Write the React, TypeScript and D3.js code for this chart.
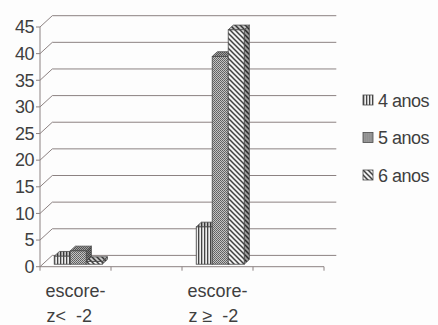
import { useEffect, useRef } from "react";
import * as d3 from "d3";

// categories sit in slots 0 and 2 of a 4-slot axis (slots 1 and 3 are empty)
const categories = ["escore-z<  -2", "escore-z ≥  -2"];
const categorySlots = [0, 2];
const slots = [0, 1, 2, 3];
const series = ["4 anos", "5 anos", "6 anos"];
const values4 = [1.5, 7];
const values5 = [2.5, 39];
const values6 = [0.5, 44];
const yTicks = [0, 5, 10, 15, 20, 25, 30, 35, 40, 45];

const App = () => {
  const ref = useRef<SVGSVGElement>(null);

  useEffect(() => {
    if (!ref.current) return;
    const svg = d3.select(ref.current);
    svg.selectAll("*").remove();

    const width = 438;
    const height = 325;
    svg.attr("width", width).attr("height", height);

    const font = "'Liberation Sans', Arial, sans-serif";
    const textColor = "#3f3f3f";
    const gridColor = "#8c8282";
    const edge = "#4a4a4a";

    // depth of the 3D box and of the bars
    const DX = 12.3;
    const DY = -11.3;
    const barFront = 0.22;
    const barDepth = 0.42;
    const bx = DX * barFront;
    const by = DY * barFront;
    const dxb = DX * barDepth;
    const dyb = DY * barDepth;

    const x = d3.scaleBand<number>().domain(slots).range([40, 324]);
    const inner = d3
      .scaleBand<string>()
      .domain(series)
      .range([0, x.bandwidth()])
      .paddingOuter(0.72);
    const y = d3.scaleLinear().domain([0, 45]).range([266.7, 27]);

    svg
      .append("rect")
      .attr("width", width)
      .attr("height", height)
      .attr("fill", "#fdfdfd");

    // patterns
    const defs = svg.append("defs");
    const p4 = defs
      .append("pattern")
      .attr("id", "p4")
      .attr("patternUnits", "userSpaceOnUse")
      .attr("width", 3)
      .attr("height", 3);
    p4.append("rect").attr("width", 3).attr("height", 3).attr("fill", "#eeeeee");
    p4.append("rect").attr("x", 0).attr("width", 1.3).attr("height", 3).attr("fill", "#444");

    const p5 = defs
      .append("pattern")
      .attr("id", "p5")
      .attr("patternUnits", "userSpaceOnUse")
      .attr("width", 2)
      .attr("height", 2);
    p5.append("rect").attr("width", 2).attr("height", 2).attr("fill", "#c4c4c4");
    p5.append("rect").attr("width", 1).attr("height", 1).attr("fill", "#5e5e5e");
    p5.append("rect").attr("x", 1).attr("y", 1).attr("width", 1).attr("height", 1).attr("fill", "#6a6a6a");

    const p6 = defs
      .append("pattern")
      .attr("id", "p6")
      .attr("patternUnits", "userSpaceOnUse")
      .attr("width", 5)
      .attr("height", 5);
    p6.append("rect").attr("width", 5).attr("height", 5).attr("fill", "#f2f2f2");
    p6.append("path")
      .attr("d", "M0,0L5,5M-1,4L1,6M4,-1L6,1")
      .attr("stroke", "#404040")
      .attr("stroke-width", 1.5);

    const fills = ["url(#p4)", "url(#p5)", "url(#p6)"];
    const seriesValues = [values4, values5, values6];

    // gridlines: diagonal from front axis to back wall, then across
    const x0 = x.range()[0];
    const x1 = x.range()[1];
    const grid = svg.append("g");
    yTicks.forEach((t) => {
      grid
        .append("path")
        .attr(
          "d",
          `M${x0},${y(t)}L${x0 + DX},${y(t) + DY}L${x1 + DX},${y(t) + DY}`
        )
        .attr("fill", "none")
        .attr("stroke", gridColor)
        .attr("stroke-width", 1);
    });

    // y axis
    const yAxis = svg.append("g");
    yAxis
      .append("line")
      .attr("x1", x0)
      .attr("x2", x0)
      .attr("y1", y(45))
      .attr("y2", y(0))
      .attr("stroke", gridColor);
    yTicks.forEach((t) => {
      yAxis
        .append("line")
        .attr("x1", x0 - 4)
        .attr("x2", x0)
        .attr("y1", y(t))
        .attr("y2", y(t))
        .attr("stroke", gridColor);
      yAxis
        .append("text")
        .attr("x", 34)
        .attr("y", y(t) + 6.3)
        .attr("text-anchor", "end")
        .attr("font-family", font)
        .attr("font-size", 18)
        .attr("letter-spacing", -0.5)
        .attr("fill", textColor)
        .text(t);
    });

    // x axis
    const xAxis = svg.append("g");
    xAxis
      .append("line")
      .attr("x1", x0)
      .attr("x2", x1)
      .attr("y1", y(0))
      .attr("y2", y(0))
      .attr("stroke", gridColor);
    slots.concat([slots.length]).forEach((s) => {
      const xt = s < slots.length ? (x(s) as number) : x1;
      xAxis
        .append("line")
        .attr("x1", xt)
        .attr("x2", xt)
        .attr("y1", y(0))
        .attr("y2", y(0) + 4)
        .attr("stroke", gridColor);
    });

    // category labels wrap after the hyphen; both lines start at the first line's left edge
    categories.forEach((c, i) => {
      const cx = (x(categorySlots[i]) as number) + x.bandwidth() / 2;
      const cut = c.indexOf("-") + 1;
      const lines = [c.slice(0, cut), c.slice(cut)];
      const first = xAxis
        .append("text")
        .attr("x", cx)
        .attr("y", 297)
        .attr("text-anchor", "middle")
        .attr("font-family", font)
        .attr("font-size", 18)
        .attr("fill", textColor)
        .text(lines[0]);
      const w0 = (first.node() as SVGTextElement).getComputedTextLength();
      xAxis
        .append("text")
        .attr("x", cx - w0 / 2 + 1)
        .attr("y", 322)
        .attr("font-family", font)
        .attr("font-size", 18)
        .attr("fill", textColor)
        .style("white-space", "pre")
        .text(lines[1]);
    });

    // 3D bars
    const bars = svg.append("g");
    categories.forEach((_c, ci) => {
      series.forEach((s, si) => {
        const v = seriesValues[si][ci];
        const xa = (x(categorySlots[ci]) as number) + (inner(s) as number) + bx;
        const w = inner.bandwidth();
        const yt = y(v) + by;
        const yb = y(0) + by;
        const topPts = `${xa},${yt} ${xa + w},${yt} ${xa + w + dxb},${yt + dyb} ${xa + dxb},${yt + dyb}`;
        const sidePts = `${xa + w},${yt} ${xa + w + dxb},${yt + dyb} ${xa + w + dxb},${yb + dyb} ${xa + w},${yb}`;
        const g = bars.append("g");
        g.append("polygon").attr("points", sidePts).attr("fill", fills[si]);
        g.append("polygon")
          .attr("points", sidePts)
          .attr("fill", "#000")
          .attr("fill-opacity", 0.35)
          .attr("stroke", edge)
          .attr("stroke-width", 0.8);
        g.append("polygon").attr("points", topPts).attr("fill", fills[si]);
        g.append("polygon")
          .attr("points", topPts)
          .attr("fill", "#000")
          .attr("fill-opacity", 0.18)
          .attr("stroke", edge)
          .attr("stroke-width", 0.8);
        g.append("rect")
          .attr("x", xa)
          .attr("y", yt)
          .attr("width", w)
          .attr("height", yb - yt)
          .attr("fill", fills[si])
          .attr("stroke", edge)
          .attr("stroke-width", 0.8);
      });
    });

    // legend
    const legend = svg.append("g").attr("transform", "translate(363, 100)");
    series.forEach((s, i) => {
      const item = legend.append("g").attr("transform", `translate(0, ${i * 37.5})`);
      item
        .append("rect")
        .attr("x", 0)
        .attr("y", -5)
        .attr("width", 10)
        .attr("height", 10)
        .attr("fill", fills[i])
        .attr("stroke", edge)
        .attr("stroke-width", 0.8);
      item
        .append("text")
        .attr("x", 15)
        .attr("y", 6.5)
        .attr("font-family", font)
        .attr("font-size", 18)
        .attr("letter-spacing", -0.5)
        .attr("fill", textColor)
        .text(s);
    });
  }, []);

  return <svg ref={ref} style={{ position: "absolute", left: 0, top: 0 }}></svg>;
};

export default App;
